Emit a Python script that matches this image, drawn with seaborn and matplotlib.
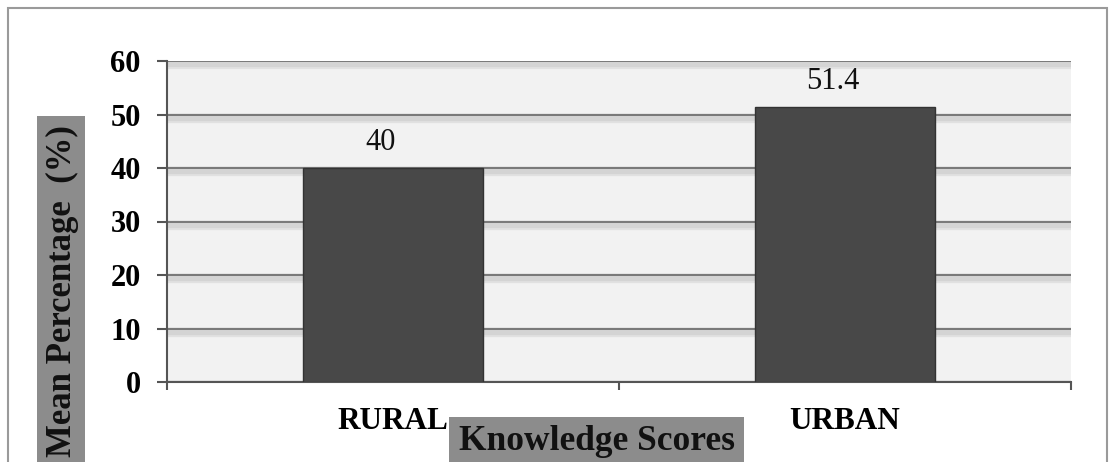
import matplotlib
matplotlib.use("Agg")
import matplotlib.pyplot as plt
import matplotlib.patheffects as pe
from matplotlib.patches import Rectangle
import seaborn as sns
import pandas as pd

# Data
categories = ["RURAL", "URBAN"]
mean_pct = [40, 51.4]
value_labels = ["40", "51.4"]
y_ticks = [0, 10, 20, 30, 40, 50, 60]

W, H = 1117, 462
sns.set_theme(style="white")
plt.rcParams["font.family"] = ["Liberation Serif", "DejaVu Serif"]

fig = plt.figure(figsize=(W / 100, H / 100), dpi=100)
fig.patch.set_facecolor("white")

def fx(px):
    return px / W

def fy(py):
    return 1 - py / H

# outer frame
fig.patches.append(Rectangle((fx(8), fy(475)), fx(1107) - fx(8), fy(8) - fy(475),
                             transform=fig.transFigure, fill=False,
                             edgecolor="#9a9a9a", linewidth=1.5, zorder=0))

ax = fig.add_axes([fx(167), fy(382), fx(1071) - fx(167), fy(61) - fy(382)])
ax.set_facecolor("#f2f2f2")

df = pd.DataFrame({"area": categories, "pct": mean_pct})
sns.barplot(data=df, x="area", y="pct", color="#484848", saturation=1,
            width=0.4, edgecolor="#333333", linewidth=1, ax=ax, zorder=3)

ax.set_ylim(0, 60)
ax.set_xlim(-0.5, 1.5)
ax.set_yticks(y_ticks)
ax.set_yticklabels([str(t) for t in y_ticks], fontweight="bold", fontsize=22)
ax.set_xticks([0, 1])
ax.set_xticklabels(categories, fontweight="bold", fontsize=22.5)
ax.set_xticks([-0.5, 0.5, 1.5], minor=True)
ax.tick_params(axis="y", which="major", direction="out", length=7, width=1.5,
               color="#555555", pad=12, labelcolor="black", left=True)
ax.tick_params(axis="x", which="major", length=0, pad=18, labelcolor="black")
ax.tick_params(axis="x", which="minor", direction="out", length=6, width=1.5,
               color="#555555", bottom=True)
ax.set_xlabel("")
ax.set_ylabel("")

# gridlines with a soft drop shadow
ax.yaxis.grid(True, color="#7a7a7a", linewidth=1.6, zorder=1)
ax.set_axisbelow(True)
for gl in ax.yaxis.get_gridlines():
    gl.set_path_effects([
        pe.SimpleLineShadow(offset=(0, -3), shadow_color="#a0a0a0", alpha=0.2, linewidth=6),
        pe.SimpleLineShadow(offset=(0, -3), shadow_color="#a0a0a0", alpha=0.2, linewidth=3),
        pe.Normal(),
    ])

for side in ["top", "right"]:
    ax.spines[side].set_visible(False)
for side in ["left", "bottom"]:
    ax.spines[side].set_color("#555555")
    ax.spines[side].set_linewidth(1.5)

# value labels above bars
for patch, val, txt in zip(ax.patches, mean_pct, value_labels):
    cx = patch.get_x() + patch.get_width() / 2
    ax.annotate(txt, xy=(cx, val), xytext=(-12, 11), textcoords="offset pixels",
                ha="center", va="bottom", fontsize=22, color="#111111")

# axis titles on gray boxes
fig.patches.append(Rectangle((fx(37), fy(470)), fx(85) - fx(37), fy(116) - fy(470),
                             transform=fig.transFigure, facecolor="#8c8c8c",
                             edgecolor="none", zorder=1))
fig.text(fx(62), fy(291), "Mean Percentage  (%)", rotation=90, ha="center", va="center",
         fontsize=25, fontweight="bold", color="#111111")

fig.patches.append(Rectangle((fx(449), fy(470)), fx(744) - fx(449), fy(417) - fy(470),
                             transform=fig.transFigure, facecolor="#8c8c8c",
                             edgecolor="none", zorder=1))
fig.text(fx(597), fy(442), "Knowledge Scores", ha="center", va="center",
         fontsize=25.5, fontweight="bold", color="#111111")

fig.savefig("out.png", dpi=100)
